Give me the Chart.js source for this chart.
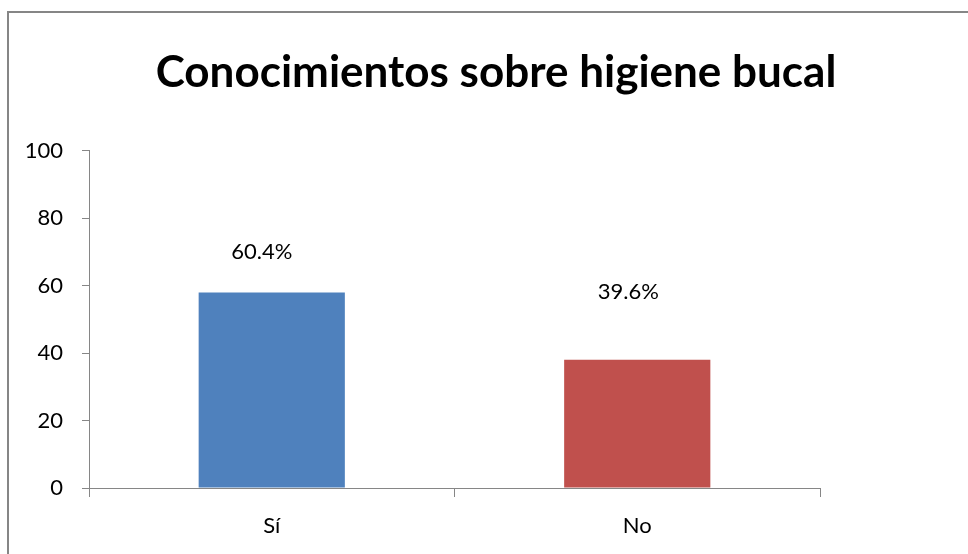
<!DOCTYPE html>
<html>
<head>
<meta charset="utf-8">
<script src="https://cdn.jsdelivr.net/npm/chart.js@4/dist/chart.umd.min.js"></script>
<style>
  html, body { margin: 0; padding: 0; background: #fff; }
  #wrap { position: relative; width: 968px; height: 554px; }
</style>
</head>
<body>
<div id="wrap"><canvas id="c" width="968" height="554"></canvas></div>
<script>
const chartTitle = "Conocimientos sobre higiene bucal";
const categories = ["Sí", "No"];
const values = [58, 38];
const valueLabels = ["60.4%", "39.6%"];
const barColors = ["#4F81BD", "#C0504D"];
const yTicks = [0, 20, 40, 60, 80, 100];

const FONT = "Lato, 'Open Sans', sans-serif";
const AXIS = "#868686";

const framePlugin = {
  id: "frame",
  beforeDraw(chart) {
    const ctx = chart.ctx;
    ctx.save();
    ctx.strokeStyle = AXIS;
    ctx.lineWidth = 2;
    ctx.strokeRect(8, 12, 1100, 1100);
    ctx.restore();
  }
};

const labelPlugin = {
  id: "barLabels",
  afterDatasetsDraw(chart, args, opts) {
    const ctx = chart.ctx;
    const meta = chart.getDatasetMeta(0);
    ctx.save();
    ctx.fillStyle = "#000";
    ctx.font = "22px " + FONT;
    ctx.textAlign = "center";
    ctx.textBaseline = "middle";
    meta.data.forEach((bar, i) => {
      const off = opts.offsets[i] || [0, -40];
      ctx.fillText(valueLabels[i], bar.x + off[0], bar.y + off[1]);
    });
    ctx.restore();
  }
};

new Chart(document.getElementById("c"), {
  type: "bar",
  data: {
    labels: categories,
    datasets: [{
      data: values,
      backgroundColor: barColors,
      borderWidth: 0,
      categoryPercentage: 1.0,
      barPercentage: 0.4
    }]
  },
  options: {
    responsive: false,
    animation: false,
    devicePixelRatio: 1,
    layout: { padding: { left: 24, right: 0, top: 0, bottom: 0 } },
    plugins: {
      legend: { display: false },
      tooltip: { enabled: false },
      title: {
        display: true,
        text: chartTitle,
        color: "#000",
        font: { family: FONT, size: 44, weight: "bold", lineHeight: 1.2 },
        padding: { top: 46, bottom: 52 }
      },
      barLabels: { offsets: [[-10, -41], [-9, -68]] }
    },
    scales: {
      x: {
        offset: true,
        grid: {
          display: true, offset: true, drawOnChartArea: false,
          drawTicks: true, tickLength: 9, color: AXIS, lineWidth: 1
        },
        border: { display: true, color: AXIS, width: 1 },
        ticks: { color: "#000", font: { family: FONT, size: 22 }, padding: 16 },
        afterFit(scale) { scale.height = 66; }
      },
      y: {
        min: 0, max: 100,
        afterBuildTicks(scale) { scale.ticks = yTicks.map(v => ({ value: v })); },
        grid: {
          display: true, drawOnChartArea: false, drawTicks: true,
          tickLength: 7, color: AXIS, lineWidth: 1
        },
        border: { display: true, color: AXIS, width: 1 },
        ticks: { color: "#000", font: { family: FONT, size: 22 }, padding: 19 },
        afterFit(scale) { scale.width = 65; }
      },
      yPad: {
        position: "right",
        display: true,
        grid: { display: false },
        border: { display: false },
        ticks: { display: false },
        afterFit(scale) { scale.width = 148; }
      }
    }
  },
  plugins: [framePlugin, labelPlugin]
});
</script>
</body>
</html>
